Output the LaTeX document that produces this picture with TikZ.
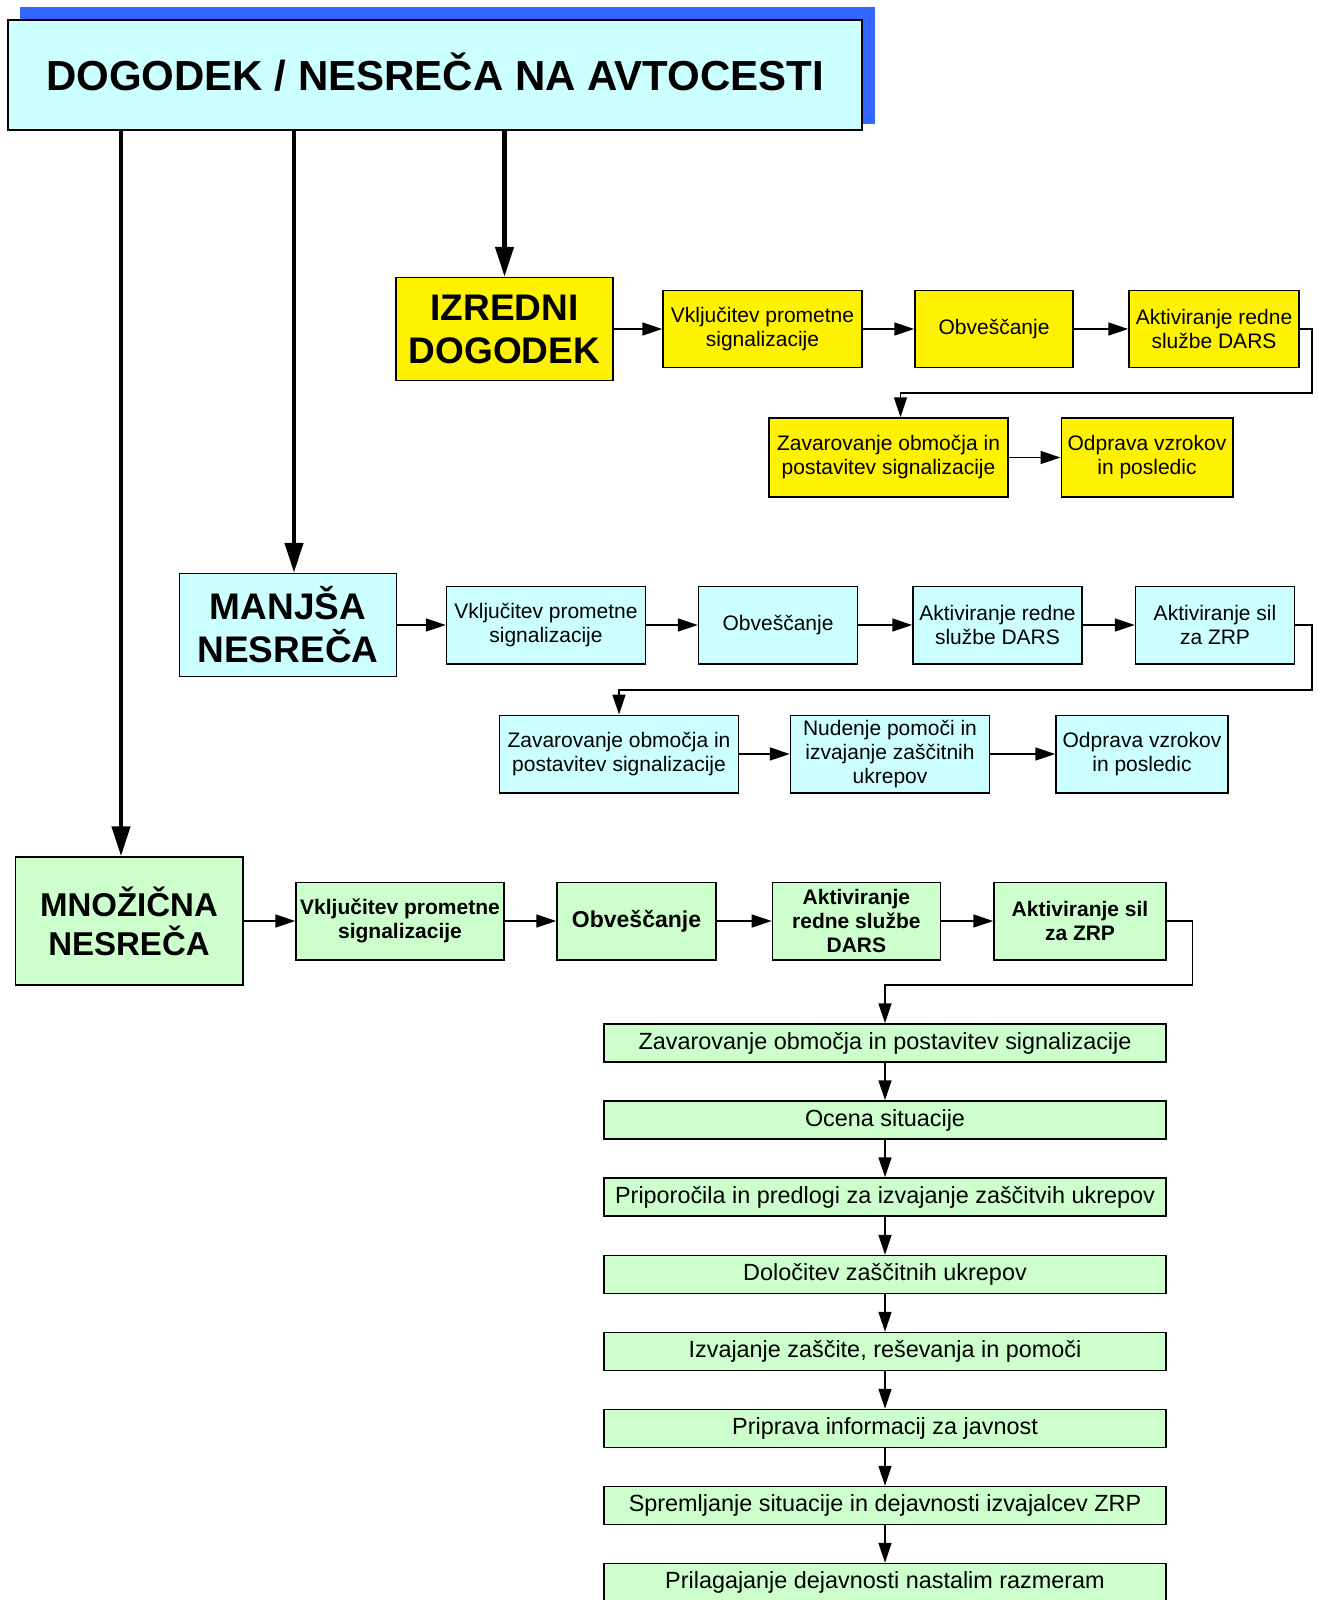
\documentclass[tikz,border=0pt]{standalone}
\usepackage{fontspec}
\setmainfont{Liberation Sans}
\usetikzlibrary{arrows.meta}
\definecolor{lightCyan}{HTML}{CCFFFF}
\definecolor{lightGreen}{HTML}{CCFFCC}
\definecolor{shadowBlue}{HTML}{3366FF}
\begin{document}
\begin{tikzpicture}
[x=1pt,y=-1pt,%
  boxDecorate/.style={shape=rectangle,draw,line width=1.5pt,inner sep=0pt,align=center,font=\fontsize{21}{24}\selectfont},%
  yellowBox/.style={boxDecorate,fill=yellow},%
  cyanBox/.style={boxDecorate,fill=lightCyan},%
  greenBox/.style={boxDecorate,fill=lightGreen,font=\bfseries\fontsize{21}{24}\selectfont},%
  listBox/.style={boxDecorate,fill=lightGreen,minimum width=562pt,minimum height=38pt,font=\fontsize{23.4}{26}\selectfont},%
  headBox/.style={boxDecorate,font=\bfseries\fontsize{37}{43}\selectfont},%
  thickArrow/.style={-{Triangle[length=30pt,width=18pt]},line width=4.5pt},%
  thinArrow/.style={-{Triangle[length=20pt,width=13pt]},line width=1.5pt}]
\useasboundingbox (0,0) rectangle (1317,1600);
%% title with its shadow
\fill[shadowBlue] (20,7) rectangle (875,124);
\node (title) at (435,75) [boxDecorate,fill=lightCyan,line width=2pt,minimum width=854pt,minimum height=110pt,font=\bfseries\fontsize{42}{50}\selectfont] {\raisebox{7pt}{DOGODEK / NESREČA NA AVTOCESTI}};
%% the three kinds of events
\node (izr) at (504.5,329) [headBox,fill=yellow,minimum width=217pt,minimum height=103pt] {IZREDNI\\DOGODEK};
\node (man) at (288,625) [headBox,fill=lightCyan,minimum width=217pt,minimum height=103pt] {MANJŠA\\NESREČA};
\node (mno) at (129,921) [headBox,fill=lightGreen,minimum width=227.5pt,minimum height=128pt,font=\bfseries\fontsize{33}{39}\selectfont] {MNOŽIČNA\\NESREČA};
%% yellow steps
\foreach \nodename/\x/\y/\w/\h/\txt in {r1a/762.5/329/199/77/{Vključitev prometne\\signalizacije},
  r1b/994/329/158/77/{Obveščanje}, r1c/1214/329/170/77/{Aktiviranje redne\\službe DARS},
  r1d/888.5/457.5/239/79/{Zavarovanje območja in\\postavitev signalizacije}, r1e/1147/457.5/171.5/79/{Odprava vzrokov\\in posledic}}
{
  \node (\nodename) at (\x,\y) [yellowBox,minimum width=\w pt,minimum height=\h pt] {\txt};
}
%% cyan steps
\foreach \nodename/\x/\y/\w/\txt in {r2a/546/625/199/{Vključitev prometne\\signalizacije},
  r2b/778/625/159/{Obveščanje}, r2c/997.5/625/169/{Aktiviranje redne\\službe DARS},
  r2d/1215/625/159/{Aktiviranje sil\\za ZRP}, r2e/619/754/239/{Zavarovanje območja in\\postavitev signalizacije},
  r2f/890/754/199/{Nudenje pomoči in\\izvajanje zaščitnih\\ukrepov}, r2g/1142/754/172/{Odprava vzrokov\\in posledic}}
{
  \node (\nodename) at (\x,\y) [cyanBox,minimum width=\w pt,minimum height=77.5pt] {\txt};
}
%% green steps
\foreach \nodename/\x/\w/\txt in {r3a/400/208/{Vključitev prometne\\signalizacije},
  r3b/636.5/159/{\fontsize{23}{26}\selectfont Obveščanje}, r3c/856.4/168/{Aktiviranje\\redne službe\\DARS},
  r3d/1080/172/{Aktiviranje sil\\za ZRP}}
{
  \node (\nodename) at (\x,921) [greenBox,minimum width=\w pt,minimum height=77.5pt] {\txt};
}
%% green list
\foreach \nodename/\y/\txt in {l0/1043/{Zavarovanje območja in postavitev signalizacije},
  l1/1120/{Ocena situacije}, l2/1197/{Priporočila in predlogi za izvajanje zaščitvih ukrepov},
  l3/1274.5/{Določitev zaščitnih ukrepov}, l4/1351.5/{Izvajanje zaščite, reševanja in pomoči},
  l5/1428.5/{Priprava informacij za javnost}, l6/1505.5/{Spremljanje situacije in dejavnosti izvajalcev ZRP},
  l7/1582.5/{Prilagajanje dejavnosti nastalim razmeram}}
{
  \node (\nodename) at (885,\y) [listBox] {\txt};
}
%% thick arrows from the title
\coordinate (izrTop) at (izr.north);
\coordinate (manTop) at ([xshift=6pt]man.north);
\coordinate (mnoTop) at ([xshift=-8pt]mno.north);
\foreach \endnode in {izrTop, manTop, mnoTop}
{
  \draw[thickArrow] (title.south -| \endnode) -- (\endnode);
}
%% thin arrows in the rows
\path
\foreach \startnode/\endnode in {izr/r1a, r1a/r1b, r1b/r1c, r1d/r1e,
  man/r2a, r2a/r2b, r2b/r2c, r2c/r2d, r2e/r2f, r2f/r2g,
  mno/r3a, r3a/r3b, r3b/r3c, r3c/r3d,
  l0/l1, l1/l2, l2/l3, l3/l4, l4/l5, l5/l6, l6/l7}
{
  (\startnode) edge[thinArrow] node {} (\endnode)
};
%% turning lines to the next row
\draw[thinArrow] (r1c.east) -| (1312,393) -| ([xshift=12pt]r1d.north);
\draw[thinArrow] (r2d.east) -| (1312,690) -| (r2e.north);
\draw[thinArrow] (r3d.east) -| (1192.5,985) -| (l0.north);
\end{tikzpicture}
\end{document}
